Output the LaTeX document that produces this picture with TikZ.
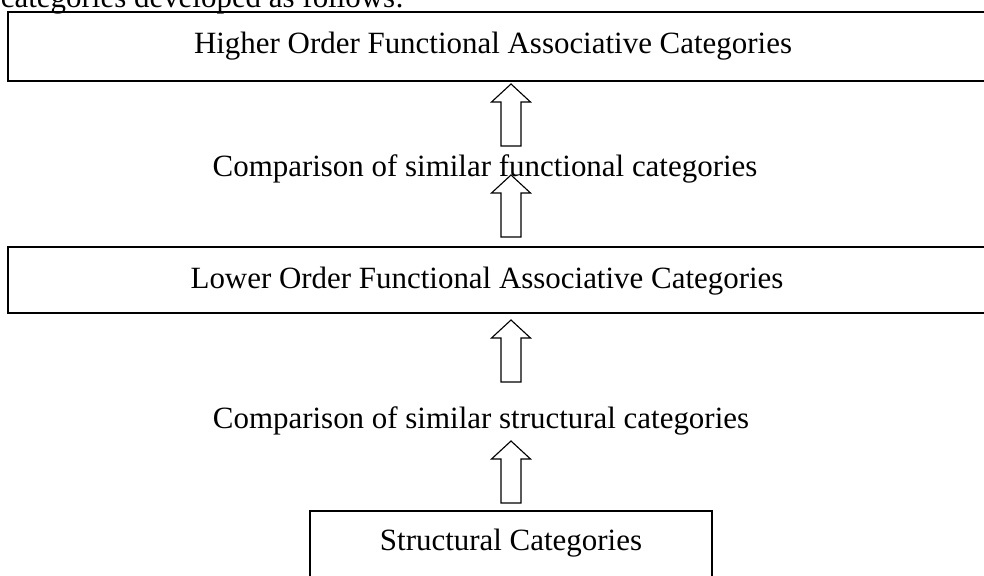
\documentclass[tikz,border=0pt]{standalone}
\usepackage{fontspec}
\setmainfont{Liberation Serif}
\usetikzlibrary{positioning}
% hollow block arrow pointing up, #1 = foot of the shaft
\newcommand{\hollowup}[1]{%
  \draw[hollow] (#1) ++(-10,0) -- ++(0,-44) -- ++(-9.5,0) -- ++(19.5,-18)
    -- ++(19.5,18) -- ++(-9.5,0) -- ++(0,44) -- cycle;}

\begin{document}
\begin{tikzpicture}[x=0.025cm,y=-0.025cm,line width=1.3pt,
  lbl/.style={font=\fontsize{22}{26}\selectfont,inner sep=0pt,anchor=base},
  hollow/.style={line width=0.8pt,line join=miter}]
\useasboundingbox (0,0) rectangle (984,575);
\clip (0,0) rectangle (984,575);
% running text above, cut by the page
\node[lbl,anchor=base west] (intro) at (0,7) {categories developed as follows:};
% higher order box
\draw (8,12) rectangle (995,81);
\node[lbl] (higher) at (493,53) {Higher Order Functional Associative Categories};
% first comparison
\coordinate (up1) at (511,146);
\coordinate (up2) at (511,237);
\hollowup{up1}
\node[lbl] (compfun) at (485,176) {Comparison of similar functional categories};
\hollowup{up2}
% lower order box
\draw (8,247) rectangle (995,313);
\node[lbl] (lower) at (487,288) {Lower Order Functional Associative Categories};
% second comparison
\coordinate (up3) at (511,382);
\coordinate (up4) at (511,503);
\hollowup{up3}
\node[lbl] (compstr) at (481,428) {Comparison of similar structural categories};
\hollowup{up4}
% structural box
\draw (310,511) rectangle (712,590);
\node[lbl] (struct) at (511,550) {Structural Categories};
\end{tikzpicture}
\end{document}
